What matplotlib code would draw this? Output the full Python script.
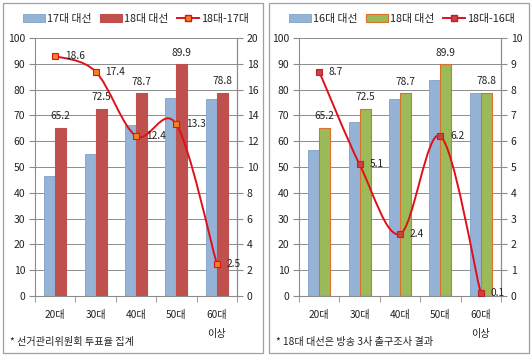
import matplotlib.pyplot as plt
import numpy as np
from matplotlib.path import Path
from matplotlib.patches import PathPatch, Rectangle, Patch
from matplotlib.lines import Line2D

plt.rcParams['font.family'] = ['Noto Sans CJK KR', 'DejaVu Sans']

# data
ages = ['20대', '30대', '40대', '50대', '60대\n이상']
v17 = [46.6, 55.1, 66.3, 76.6, 76.3]
v16 = [56.5, 67.4, 76.3, 83.7, 78.7]
v18 = [65.2, 72.5, 78.7, 89.9, 78.8]
d18_17 = [18.6, 17.4, 12.4, 13.3, 2.5]
d18_16 = [8.7, 5.1, 2.4, 6.2, 0.1]

W, H = 532, 358
fig = plt.figure(figsize=(W / 100, H / 100), dpi=100)
fig.patch.set_facecolor('white')

BLUE = '#95B3D7'
BLUE_E = '#7F9FC8'
RED = '#C0504D'
GREEN = '#9BBB59'
LINE = '#E0101A'
GRID = '#8C8C8C'


def smooth_path(xs, ys):
    # Excel-like smoothed line as cubic bezier through the points
    xs = np.asarray(xs, float)
    ys = np.asarray(ys, float)
    n = len(xs)
    verts = [(xs[0], ys[0])]
    codes = [Path.MOVETO]
    for i in range(n - 1):
        p0 = i - 1 if i > 0 else i
        p3 = i + 2 if i + 2 < n else i + 1
        c1 = (xs[i] + (xs[i + 1] - xs[p0]) / 6, ys[i] + (ys[i + 1] - ys[p0]) / 6)
        c2 = (xs[i + 1] - (xs[p3] - xs[i]) / 6, ys[i + 1] - (ys[p3] - ys[i]) / 6)
        verts += [c1, c2, (xs[i + 1], ys[i + 1])]
        codes += [Path.CURVE4] * 3
    return Path(verts, codes)


def panel(x0, x1, old, old_label, new_color, new_edge, diff, diff_label,
          ymax2, mface, medge, note, box):
    ax = fig.add_axes([x0 / W, (H - 296) / H, (x1 - x0) / W, (296 - 38) / H])
    x = np.arange(len(ages))
    bw = 0.27
    ax.bar(x - bw / 2, old, bw, color=BLUE, edgecolor=BLUE_E, linewidth=0.6, zorder=2)
    ax.bar(x + bw / 2, v18, bw, color=new_color, edgecolor=new_edge, linewidth=0.8, zorder=2)
    for xi, v in zip(x, v18):
        ax.text(xi + bw / 2, v + 2.5, f'{v:.1f}', ha='center', va='bottom',
                fontsize=7.3, color='#222222', zorder=5)
    ax.set_xlim(-0.5, len(ages) - 0.5)
    ax.set_ylim(0, 100)
    ax.set_yticks(range(0, 101, 10))
    ax.set_xticks(x)
    ax.set_xticklabels(ages, linespacing=2.1)
    ax.set_xticks(np.arange(-0.5, len(ages), 1), minor=True)
    ax.tick_params(axis='x', which='major', length=0, pad=10, labelsize=7.3, colors='#222222')
    ax.tick_params(axis='x', which='minor', length=4, color=GRID, direction='out')
    ax.tick_params(axis='y', length=4, color=GRID, labelsize=7.5, colors='#222222', pad=3)
    ax.grid(axis='y', color=GRID, linewidth=0.7, zorder=0)
    ax.set_axisbelow(True)
    ax.spines['top'].set_visible(False)
    for s in ['left', 'bottom', 'right']:
        ax.spines[s].set_color(GRID)

    ax2 = ax.twinx()
    ax2.set_ylim(0, ymax2)
    step = ymax2 / 10
    ticks2 = np.arange(0, ymax2 + step / 2, step)
    ax2.set_yticks(ticks2)
    ax2.set_yticklabels([f'{t:g}' for t in ticks2])
    ax2.tick_params(axis='y', length=4, color=GRID, labelsize=7.5, colors='#222222', pad=3)
    for s in ['top', 'left', 'bottom']:
        ax2.spines[s].set_visible(False)
    ax2.spines['right'].set_color(GRID)
    ax2.add_patch(PathPatch(smooth_path(x, diff), facecolor='none',
                            edgecolor=LINE, linewidth=1.4, zorder=3))
    ax2.plot(x, diff, ls='none', marker='s', ms=5, mfc=mface, mec=medge,
             mew=0.8, zorder=4)
    for xi, v in zip(x, diff):
        ax2.annotate(f'{v:.1f}', (xi, v), xytext=(7, 0), textcoords='offset points',
                     ha='left', va='center', fontsize=7.3, color='#222222', zorder=5)

    handles = [Patch(facecolor=BLUE, edgecolor=BLUE_E, linewidth=0.6),
               Patch(facecolor=new_color, edgecolor=new_edge, linewidth=0.8),
               Line2D([], [], color=LINE, lw=1.4, marker='s', ms=5, mfc=mface, mec=medge)]
    leg = fig.legend(handles, [old_label, '18대 대선', diff_label], ncol=3,
                     loc='center', bbox_to_anchor=((box[0] + box[1]) / 2 / W + 3 / W, 1 - 19 / H),
                     frameon=False, fontsize=7.8, handlelength=2.0, handleheight=0.7,
                     handletextpad=0.2, columnspacing=0.8, borderaxespad=0)
    for t in leg.get_texts():
        t.set_color('#222222')

    fig.text((box[0] + 7) / W, 1 - 342 / H, note, fontsize=7.3, va='center', color='#222222')
    fig.patches.append(Rectangle((box[0] / W, 1 - 353 / H), (box[1] - box[0]) / W, 350 / H,
                                 transform=fig.transFigure, facecolor='none',
                                 edgecolor='#A0A0A0', linewidth=0.9))


panel(35, 237, v17, '17대 대선', RED, RED, d18_17, '18대-17대', 20,
      '#F58220', LINE, '* 선거관리위원회 투표율 집계', (3, 263))
panel(299, 501, v16, '16대 대선', GREEN, '#D9722A', d18_16, '18대-16대', 10,
      '#D04040', '#C0202A', '* 18대 대선은 방송 3사 출구조사 결과', (269, 529))

fig.savefig('out.png', dpi=100)
